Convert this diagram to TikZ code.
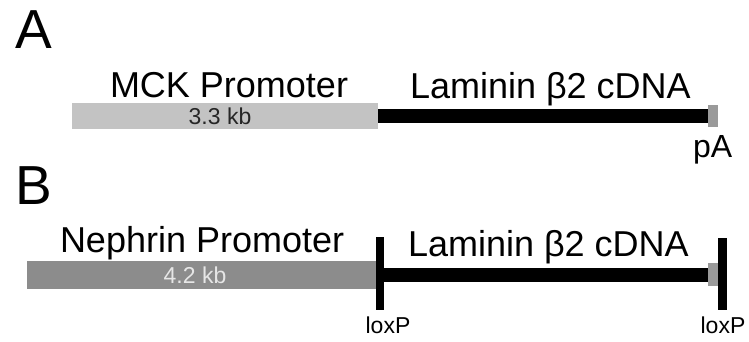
\documentclass[tikz,border=0pt]{standalone}
\usepackage{fontspec}
\setmainfont{Liberation Sans}
\definecolor{lightbar}{HTML}{C3C3C3}
\definecolor{darkbar}{HTML}{8C8C8C}
\definecolor{pabox}{HTML}{9A9A9A}
\definecolor{kbdark}{HTML}{262626}
\definecolor{kblight}{HTML}{E6E6E6}
\begin{document}
\begin{tikzpicture}[x=1pt,y=-1pt,
  lbl/.style={inner sep=0pt,outer sep=0pt,anchor=base west},
  panel/.style={lbl,font=\fontsize{55}{55}\selectfont},
  big/.style={lbl,font=\fontsize{36}{36}\selectfont},
  kb/.style={inner sep=0pt,anchor=base,font=\fontsize{23}{23}\selectfont},
  lox/.style={inner sep=0pt,anchor=base,font=\fontsize{23}{23}\selectfont}]
\useasboundingbox (0,0) rectangle (749,341);
% Panel A
\node[panel] (labA) at (15,48) {A};
\fill[lightbar] (72,103) rectangle (378,129);
\fill[black] (378,109) rectangle (708,123);
\fill[pabox] (708,105) rectangle (718,127);
\node[big] (mck) at (110,97) {MCK Promoter};
\node[big] (lamA) at (410,98) {Laminin β2 cDNA};
\node[kb,text=kbdark] (kbA) at (220,124) {3.3 kb};
\node[lbl,font=\fontsize{32}{32}\selectfont] (pA) at (693,157) {pA};
% Panel B
\node[panel] (labB) at (16,204) {B};
\fill[darkbar] (27,261) rectangle (378,289);
\fill[black] (378,268) rectangle (708,282);
\fill[pabox] (708,263) rectangle (719,286);
\fill[black] (376,237) rectangle (384,310);
\fill[black] (718,238) rectangle (727,310);
\node[big] (neph) at (60,252) {Nephrin Promoter};
\node[big] (lamB) at (408,256) {Laminin β2 cDNA};
\node[kb,text=kblight] (kbB) at (195,283) {4.2 kb};
\node[lox] (loxL) at (388,333) {loxP};
\node[lox] (loxR) at (723,333) {loxP};
\end{tikzpicture}
\end{document}
